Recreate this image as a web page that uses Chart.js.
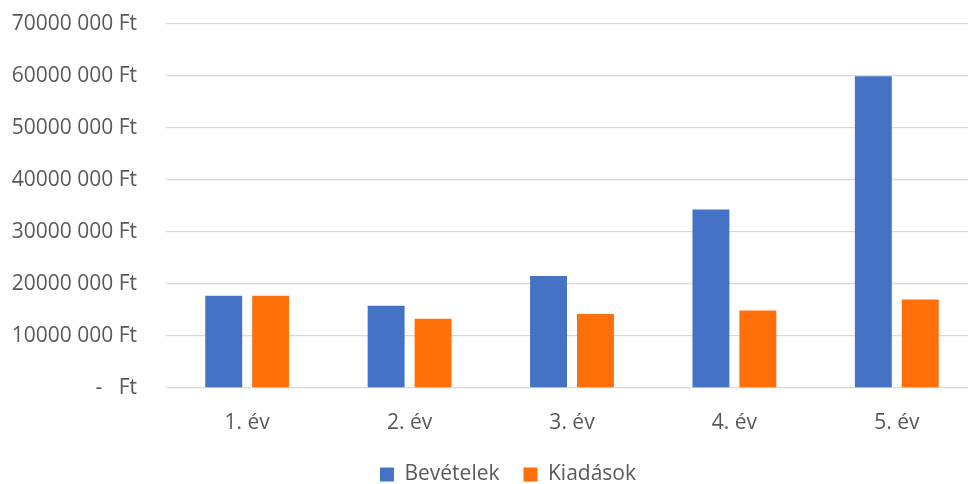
<!DOCTYPE html>
<html>
<head>
<meta charset="utf-8">
<script src="https://cdn.jsdelivr.net/npm/chart.js@4/dist/chart.umd.min.js"></script>
<style>
  html, body { margin:0; padding:0; background:#fff; overflow:hidden; }
  #wrap { width:968px; height:484px; overflow:hidden; position:relative; }
  #chart { position:absolute; left:0; top:0; }
</style>
</head>
<body>
<div id="wrap"><canvas id="chart" width="978" height="495"></canvas></div>
<script>
// chart data
const categories = ["1. év", "2. év", "3. év", "4. év", "5. év"];
const bevetelek  = [17700000, 15800000, 21500000, 34300000, 59900000];
const kiadasok   = [17700000, 13300000, 14200000, 14900000, 17000000];
const seriesNames = ["Bevételek", "Kiadások"];
const yMax = 70000000;
const yStep = 10000000;

const textColor = "#595959";
const gridColor = "#D9D9D9";
const font = { family: "'Open Sans', sans-serif", size: 21 };

// "70000 000 Ft" style, zero shown as "-   Ft"
function ftLabel(v) {
  if (v === 0) return "-   Ft";
  const thousands = Math.floor(v / 1000);
  const rest = String(v % 1000).padStart(3, "0");
  return thousands + " " + rest + " Ft";
}

// nudge legend to where the original sits
const legendShift = {
  id: "legendShift",
  afterLayout(chart) {
    chart.legend.left += 19;
    chart.legend.right += 19;
  }
};

new Chart(document.getElementById("chart"), {
  type: "bar",
  data: {
    labels: categories,
    datasets: [
      { label: seriesNames[0], data: bevetelek, backgroundColor: "#4472C4" },
      { label: seriesNames[1], data: kiadasok, backgroundColor: "#FF6F0A" }
    ]
  },
  options: {
    responsive: false,
    animation: false,
    devicePixelRatio: 1,
    categoryPercentage: 0.578,
    barPercentage: 0.787,
    layout: { padding: 0 },
    plugins: {
      tooltip: { enabled: false },
      legend: {
        position: "bottom",
        labels: {
          color: textColor,
          font: font,
          boxWidth: 14,
          boxHeight: 14,
          padding: 24
        }
      }
    },
    scales: {
      x: {
        grid: { display: false, drawTicks: false },
        border: { display: false },
        ticks: { color: textColor, font: font, padding: 22 },
        afterFit(scale) { scale.height = 52; }
      },
      y: {
        min: 0,
        max: yMax,
        grid: {
          color: gridColor,
          lineWidth: 1.3,
          drawTicks: true,
          tickLength: 18,
          tickColor: "rgba(0,0,0,0)"
        },
        border: { display: false },
        ticks: {
          stepSize: yStep,
          color: textColor,
          font: font,
          padding: 11,
          callback: v => ftLabel(v)
        },
        afterFit(scale) { scale.width = 166; }
      }
    }
  },
  plugins: [legendShift]
});
</script>
</body>
</html>
